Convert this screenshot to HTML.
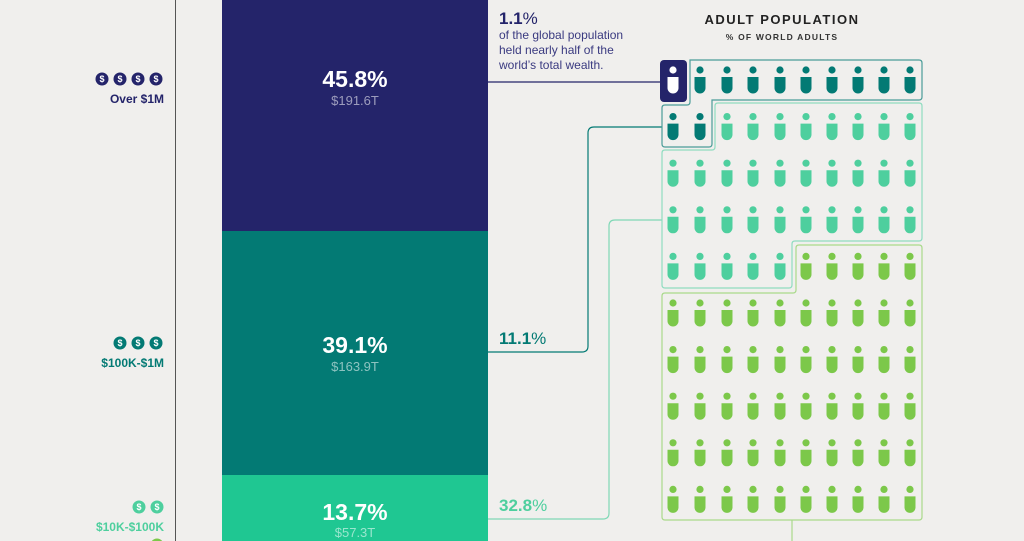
<!DOCTYPE html>
<html><head><meta charset="utf-8"><style>
body{margin:0;width:1024px;height:541px;overflow:hidden;background:#f0efed;font-family:"Liberation Sans",sans-serif;position:relative}
.a{position:absolute}
</style></head><body>
<svg class="a" style="left:0;top:0" width="1024" height="541" xmlns="http://www.w3.org/2000/svg">
<line x1="175.5" y1="0" x2="175.5" y2="541" stroke="#555" stroke-width="1"/>
<rect x="222" y="0" width="266" height="231" fill="#24246a"/>
<rect x="222" y="231" width="266" height="244" fill="#037a74"/>
<rect x="222" y="475" width="266" height="66" fill="#1fc792"/>
<g font-weight="bold" text-anchor="middle" fill="#fff">
<text x="355" y="87" font-size="23">45.8%</text>
<text x="355" y="353" font-size="23">39.1%</text>
<text x="355" y="520" font-size="23">13.7%</text>
</g>
<g text-anchor="middle" fill="#fff" fill-opacity="0.55" font-size="13">
<text x="355" y="105">$191.6T</text>
<text x="355" y="371">$163.9T</text>
<text x="355" y="537">$57.3T</text>
</g>
<!-- left labels -->
<g font-size="12" font-weight="bold" text-anchor="end">
<text x="164" y="103" fill="#24246a">Over $1M</text>
<text x="164" y="367" fill="#037a74">$100K-$1M</text>
<text x="164" y="531" fill="#4ecf9e">$10K-$100K</text>
</g>
<g font-size="9" font-weight="bold" text-anchor="middle" fill="#fff">
<circle cx="102" cy="79" r="6.5" fill="#24246a"/><circle cx="120" cy="79" r="6.5" fill="#24246a"/><circle cx="138" cy="79" r="6.5" fill="#24246a"/><circle cx="156" cy="79" r="6.5" fill="#24246a"/>
<text x="102" y="82">$</text><text x="120" y="82">$</text><text x="138" y="82">$</text><text x="156" y="82">$</text>
<circle cx="120" cy="343" r="6.5" fill="#037a74"/><circle cx="138" cy="343" r="6.5" fill="#037a74"/><circle cx="156" cy="343" r="6.5" fill="#037a74"/>
<text x="120" y="346">$</text><text x="138" y="346">$</text><text x="156" y="346">$</text>
<circle cx="139" cy="507" r="6.5" fill="#4ecf9e"/><circle cx="157" cy="507" r="6.5" fill="#4ecf9e"/>
<text x="139" y="510">$</text><text x="157" y="510">$</text>
<circle cx="157" cy="545" r="6.5" fill="#7cc84a"/>
</g>
<!-- annotations -->
<text x="499" y="24" font-size="17" font-weight="bold" fill="#24246a">1.1<tspan font-weight="normal">%</tspan></text>
<g font-size="12" fill="#3a3a80"><text x="499" y="39">of the global population</text><text x="499" y="54">held nearly half of the</text><text x="499" y="69">world’s total wealth.</text></g>
<text x="499" y="344" font-size="17" font-weight="bold" fill="#037a74">11.1<tspan font-weight="normal">%</tspan></text>
<text x="499" y="511" font-size="17" font-weight="bold" fill="#4ecf9e">32.8<tspan font-weight="normal">%</tspan></text>
<text x="782" y="24" font-size="13" font-weight="bold" text-anchor="middle" fill="#222" letter-spacing="1.5">ADULT POPULATION</text>
<text x="782" y="40" font-size="8.5" font-weight="bold" text-anchor="middle" fill="#333" letter-spacing="1.2">% OF WORLD ADULTS</text>
<!-- connectors -->
<g fill="none" stroke-width="1.2">
<path d="M488 82 H660" stroke="#24246a"/>
<path d="M488 352 H582 Q588 352 588 346 V133 Q588 127 594 127 H662" stroke="#037a74"/>
<path d="M488 519 H603 Q609 519 609 513 V226 Q609 220 615 220 H662" stroke="#7fd8b5"/>
<path d="M792 520 V541" stroke="#a9d98a"/>
<path d="M690 60 H919 Q922 60 922 63 V97 Q922 100 919 100 H712 V144 Q712 147 709 147 H665 Q662 147 662 144 V108 Q662 105 665 105 H687 Q690 105 690 102 Z" stroke="#4a9c98"/>
<path d="M718 103 H919 Q922 103 922 106 V238 Q922 241 919 241 H795 Q792 241 792 244 V285 Q792 288 789 288 H665 Q662 288 662 285 V153 Q662 150 665 150 H712 Q715 150 715 147 V106 Q715 103 718 103 Z" stroke="#8fdcc0"/>
<path d="M799 245 H919 Q922 245 922 248 V517 Q922 520 919 520 H665 Q662 520 662 517 V296 Q662 293 665 293 H793 Q796 293 796 290 V248 Q796 245 799 245 Z" stroke="#a9d98a"/>
</g>
<rect x="660" y="60" width="27" height="42" rx="4" fill="#24246a"/>
<g id="icons"></g>
</svg>
<script>
var g=document.getElementById('icons'),s='';
var xs=[673,700,727,753,780,806,832,858,884,910];
for(var r=0;r<10;r++){var y=70+r*46.6;for(var c=0;c<10;c++){var i=r*10+c,col;
if(i==0)col='#fff';else if(i<=11)col='#037a74';else if(i<45)col='#4ecf9e';else col='#7cc84a';
if(r==4&&c>=5)col='#7cc84a';
var x=xs[c];
s+='<circle cx="'+x+'" cy="'+y+'" r="3.6" fill="'+col+'"/>';
s+='<path d="M'+(x-5.5)+' '+(y+7)+' h11 v11 a5.5 5.5 0 0 1 -11 0 z" fill="'+col+'"/>';}}
g.innerHTML=s;
</script>
</body></html>
